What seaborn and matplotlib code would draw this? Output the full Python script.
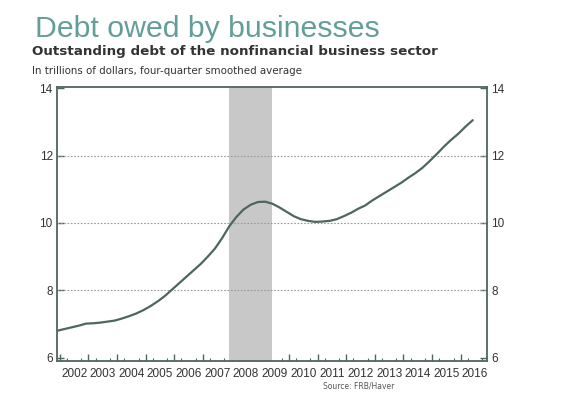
import numpy as np
import pandas as pd
import matplotlib
matplotlib.use("Agg")
import matplotlib.pyplot as plt
import seaborn as sns

# quarterly points, decimal years
quarters = [2001.92 + 0.25 * i for i in range(59)]
debt = [6.80, 6.85, 6.90, 6.95, 7.01, 7.02, 7.04, 7.07, 7.10, 7.16,
        7.23, 7.31, 7.41, 7.53, 7.67, 7.83, 8.02, 8.21, 8.40, 8.59,
        8.78, 9.00, 9.24, 9.55, 9.90, 10.18, 10.40, 10.54, 10.62, 10.63,
        10.57, 10.46, 10.33, 10.20, 10.11, 10.06, 10.03, 10.04, 10.06, 10.11,
        10.20, 10.30, 10.42, 10.52, 10.67, 10.80, 10.93, 11.06, 11.19, 11.34,
        11.48, 11.64, 11.84, 12.05, 12.27, 12.47, 12.65, 12.86, 13.05]
recession = [2007.92, 2009.42]
years = list(range(2002, 2017))
yticks = [6, 8, 10, 12, 14]

df = pd.DataFrame({"t": quarters, "debt": debt})

sns.set_theme(style="white")
plt.rcParams["font.family"] = ["Liberation Sans", "DejaVu Sans"]

dark = "#4d6661"
fig = plt.figure(figsize=(5.69, 3.98), dpi=100)
ax = fig.add_axes([0.100, 0.093, 0.756, 0.688])

ax.axvspan(recession[0], recession[1], color="#c8c8c8", lw=0, zorder=1)
sns.lineplot(data=df, x="t", y="debt", ax=ax, color=dark, lw=1.6, zorder=3)

ax.set_xlim(2001.9, 2016.92)
ax.set_ylim(5.9, 14.03)
ax.set_xlabel("")
ax.set_ylabel("")

for v in [8, 10, 12]:
    ax.axhline(v, color="#999999", lw=0.8, ls=(0, (1.5, 1.5)), zorder=1.5)

ax.set_yticks(yticks)
ax.tick_params(axis="y", which="both", direction="in", length=5, width=1,
               color=dark, labelsize=8.5, labelcolor="#333333", pad=3,
               left=True, right=True, labelleft=True, labelright=True)

# year labels at mid-year, quarter ticks
ax.set_xticks([y + 0.5 for y in years])
ax.set_xticklabels([str(y) for y in years])
ax.set_xticks([y + q * 0.25 for y in range(2002, 2017) for q in range(1, 4)],
              minor=True)
ax.tick_params(axis="x", which="major", bottom=True, length=0, labelsize=8.5,
               labelcolor="#333333", pad=5)
ax.tick_params(axis="x", which="minor", bottom=True, direction="in",
               length=2.5, width=0.8, color=dark)
sec = ax.secondary_xaxis("bottom")
sec.set_xticks(years)
sec.set_xticklabels([])
sec.tick_params(bottom=True, direction="in", length=5, width=1, color=dark)
sec.spines["bottom"].set_visible(False)

for s in ax.spines.values():
    s.set_color(dark)
    s.set_linewidth(1.3)

fig.text(0.062, 0.908, "Debt owed by businesses", fontsize=21.8,
         color="#649e9a", family="Liberation Sans")
fig.text(0.056, 0.862, "Outstanding debt of the nonfinancial business sector",
         fontsize=9.7, weight="bold", color="#333333", family="DejaVu Sans")
fig.text(0.056, 0.815, "In trillions of dollars, four-quarter smoothed average",
         fontsize=7.4, color="#333333", family="DejaVu Sans")
fig.text(0.63, 0.025, "Source: FRB/Haver", fontsize=5.5, color="#555555",
         family="DejaVu Sans", ha="center")

fig.savefig("out.png", dpi=100)
